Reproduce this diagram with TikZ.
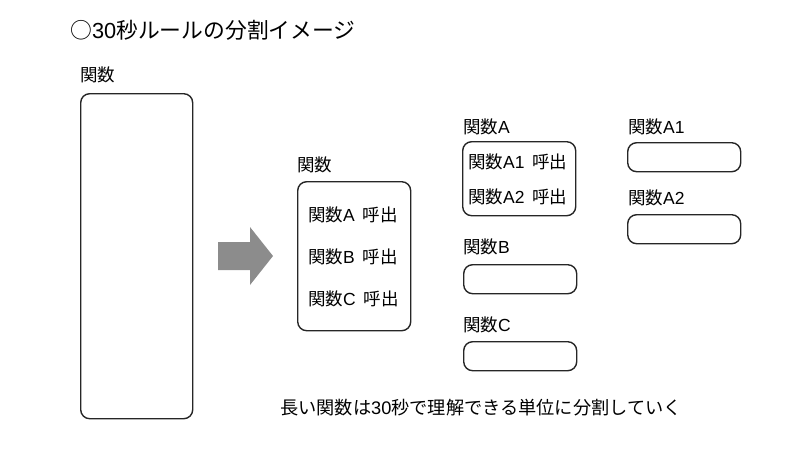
\documentclass[tikz,border=0pt]{standalone}
\usepackage{fontspec}
\setmainfont{Noto Sans CJK JP}
\newfontfamily\lat{Liberation Sans}
\newcommand{\lt}[1]{{\lat #1}}
\begin{document}
\begin{tikzpicture}[x=1pt,y=-1pt,
  txt/.style={text=black, font=\fontsize{17.5}{20}\selectfont, inner sep=0pt, anchor=west},
  box/.style={draw=black!85, line width=1.4pt, rounded corners=9pt, anchor=north west, inner sep=0pt}]
\useasboundingbox (0,0) rectangle (800,467);
\node[txt, font=\fontsize{21.8}{24}\selectfont] (title) at (70,30) {○\lt{30}秒ルールの分割イメージ};
% big function
\node[txt] (lbig) at (80,75) {関数};
\node[box, minimum width=112pt, minimum height=325pt] (big) at (80,93) {};
% arrow
\fill[black!45] (218,242) -- (250,242) -- (250,227) -- (273,256) -- (250,285) -- (250,270) -- (218,270) -- cycle;
% middle function
\node[txt] (lmid) at (297,165) {関数};
\node[box, minimum width=113pt, minimum height=149pt] (mid) at (297,181) {};
\node[txt] (ca) at (308,215) {関数\lt{A}\hspace{0.45em}呼出};
\node[txt] (cb) at (308,257) {関数\lt{B}\hspace{0.45em}呼出};
\node[txt] (cc) at (308,299) {関数\lt{C}\hspace{0.45em}呼出};
% function A
\node[txt] (lA) at (463,127) {関数\lt{A}};
\node[box, minimum width=113pt, minimum height=74pt] (A) at (462,141) {};
\node[txt] (ca1) at (468,162) {関数\lt{A1}\hspace{0.45em}呼出};
\node[txt] (ca2) at (468,197) {関数\lt{A2}\hspace{0.45em}呼出};
% function B
\node[txt] (lB) at (463,247) {関数\lt{B}};
\node[box, minimum width=113pt, minimum height=29pt] (B) at (463,264) {};
% function C
\node[txt] (lC) at (463,325) {関数\lt{C}};
\node[box, minimum width=113pt, minimum height=29pt] (C) at (463,341) {};
% A1, A2
\node[txt] (lA1) at (628,127) {関数\lt{A1}};
\node[box, minimum width=113pt, minimum height=29pt] (A1) at (627,142) {};
\node[txt] (lA2) at (628,198) {関数\lt{A2}};
\node[box, minimum width=113pt, minimum height=29pt] (A2) at (627,214) {};
% caption
\node[txt, font=\fontsize{18.2}{20}\selectfont] (cap) at (280,408) {長い関数は\lt{30}秒で理解できる単位に分割していく};
\end{tikzpicture}
\end{document}
